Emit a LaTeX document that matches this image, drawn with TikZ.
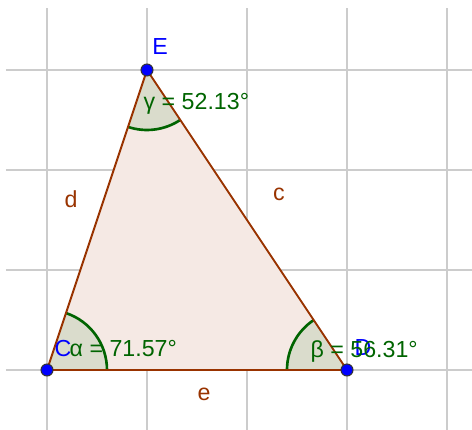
\documentclass[tikz,border=0pt]{standalone}
\usepackage{fontspec}
\setmainfont{Liberation Sans}
\usepackage{tikz}
\usetikzlibrary{angles}
\definecolor{gridcol}{RGB}{204,204,204}
\definecolor{segcol}{RGB}{153,51,0}
\definecolor{trifill}{RGB}{245,233,228}
\definecolor{angcol}{RGB}{0,100,0}
\definecolor{angfill}{RGB}{218,220,204}
\definecolor{ptcol}{RGB}{0,0,255}
\tikzset{
  seg/.style={draw=segcol,line width=0.55pt},
  seglab/.style={font=\fontsize{6.6}{8}\selectfont,text=segcol,inner sep=0pt},
  ptlab/.style={font=\fontsize{6.6}{8}\selectfont,text=ptcol,inner sep=0pt},
  anglab/.style={font=\fontsize{6.6}{8}\selectfont,text=angcol,inner sep=0pt,anchor=west},
  ang/.style={draw=angcol,fill=angfill,line width=0.75pt,angle radius=0.6cm},
  pt/.style={circle,fill=ptcol,draw=black!80,line width=0.3pt,inner sep=0pt,minimum size=0.12cm},
}

\begin{document}
\begin{tikzpicture}[x=1cm,y=1cm]
  \useasboundingbox (-0.47,-0.6) rectangle (4.25,3.7);
  \draw[gridcol,line width=0.6pt] (-0.41,-0.6) grid (4.25,3.62);
  \coordinate (C) at (0,0);
  \coordinate (E) at (1,3);
  \coordinate (D) at (3,0);
  \fill[trifill] (C) -- (D) -- (E) -- cycle;
  \pic[ang] {angle = D--C--E};
  \pic[ang] {angle = E--D--C};
  \pic[ang] {angle = C--E--D};
  \draw[seg] (C) -- (D);
  \draw[seg] (D) -- (E);
  \draw[seg] (E) -- (C);
  \node[pt] (ptC) at (C) {};
  \node[pt] (ptD) at (D) {};
  \node[pt] (ptE) at (E) {};
  \node[ptlab] (labE) at (1.13,3.23) {E};
  \node[ptlab] (labC) at (0.16,0.21) {C};
  \node[ptlab] (labD) at (3.16,0.22) {D};
  \node[anglab] (alpha) at (0.22,0.21) {α = 71.57°};
  \node[anglab] (beta) at (2.63,0.18) {β = 56.31°};
  \node[anglab] (gamma) at (0.96,2.66) {γ = 52.13°};
  \node[seglab] (labd) at (0.24,1.71) {d};
  \node[seglab] (labc) at (2.32,1.76) {c};
  \node[seglab] (labe) at (1.57,-0.24) {e};
\end{tikzpicture}
\end{document}
